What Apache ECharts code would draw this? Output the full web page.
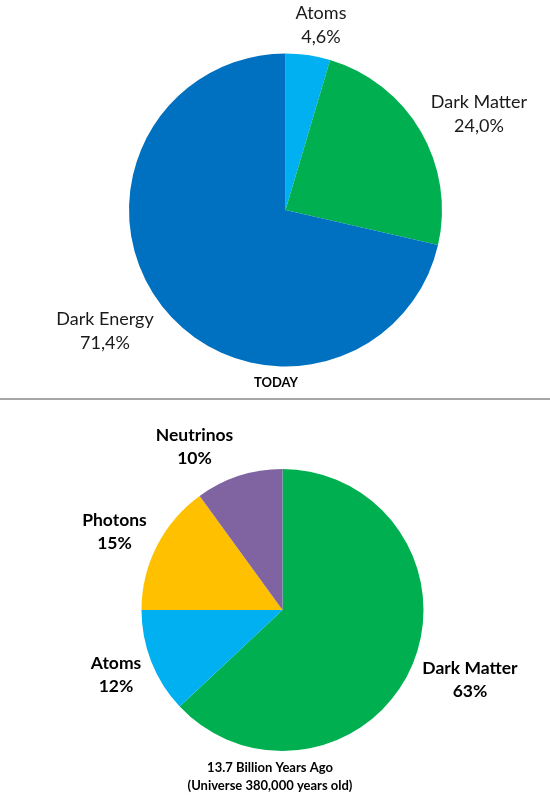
<!DOCTYPE html>
<html>
<head>
<meta charset="utf-8">
<script src="https://cdn.jsdelivr.net/npm/echarts@6/dist/echarts.min.js"></script>
<style>
  html, body { margin: 0; padding: 0; background: #fff; }
  #main { width: 550px; height: 800px; }
</style>
</head>
<body>
<div id="main"></div>
<script>
// ---- Data ----
const todayCategories = ['Atoms', 'Dark Matter', 'Dark Energy'];
const todayValues = [4.6, 24.0, 71.4];

const earlyCategories = ['Dark Matter', 'Atoms', 'Photons', 'Neutrinos'];
const earlyValues = [63, 12, 15, 10];

const todayTitle = 'TODAY';
const earlyTitle = '13.7 Billion Years Ago\n(Universe 380,000 years old)';

// ---- Styles / layout (kept separate from data) ----
const colors = {
  'Atoms': '#00B0F0',
  'Dark Matter': '#00B050',
  'Dark Energy': '#0070C0',
  'Photons': '#FFC000',
  'Neutrinos': '#8064A2'
};
const FONT = 'Lato, "Open Sans", sans-serif';
// label centres (pixels) per series, per data index
const labelPos = [
  [[321, 25], [479, 114.5], [105, 331.5]],
  [[470, 679.5], [116, 675], [114.5, 531.5], [194.5, 446.5]]
];

function pieData(cats, vals) {
  return cats.map((c, i) => ({ name: c, value: vals[i], itemStyle: { color: colors[c] } }));
}

const chart = echarts.init(document.getElementById('main'), null, { renderer: 'canvas' });

function layoutFn(p) {
  const pos = labelPos[p.seriesIndex][p.dataIndex];
  return { x: pos[0], y: pos[1], align: 'center', verticalAlign: 'middle', hideOverlap: false, moveOverlap: false };
}

chart.setOption({
  animation: false,
  backgroundColor: '#ffffff',
  title: [
    {
      text: todayTitle, left: 276, top: 376, textAlign: 'center', padding: 0,
      textStyle: { fontFamily: FONT, fontSize: 13, fontWeight: 'bold', color: '#000', lineHeight: 14 }
    },
    {
      text: earlyTitle, left: 270, top: 759, textAlign: 'center', padding: 0,
      textStyle: { fontFamily: FONT, fontSize: 13, fontWeight: 'bold', color: '#000', lineHeight: 18 }
    }
  ],
  graphic: [
    { type: 'line', shape: { x1: 0, y1: 399, x2: 550, y2: 399 }, style: { stroke: '#A6A6A6', lineWidth: 2 } }
  ],
  series: [
    {
      type: 'pie',
      center: [285.5, 210],
      radius: 156.5,
      startAngle: 90,
      clockwise: true,
      avoidLabelOverlap: false,
      data: pieData(todayCategories, todayValues),
      itemStyle: { borderWidth: 0 },
      label: {
        show: true,
        position: 'outside',
        formatter: p => p.name + '\n' + p.value.toFixed(1).replace('.', ',') + '%',
        fontFamily: FONT, fontSize: 18, color: '#1a1a1a', lineHeight: 24, align: 'center'
      },
      labelLine: { show: false },
      labelLayout: layoutFn,
      emphasis: { disabled: true }
    },
    {
      type: 'pie',
      center: [282.5, 610],
      radius: 141,
      startAngle: 90,
      clockwise: true,
      avoidLabelOverlap: false,
      data: pieData(earlyCategories, earlyValues),
      itemStyle: { borderWidth: 0 },
      label: {
        show: true,
        position: 'outside',
        formatter: p => p.name + '\n' + p.value + '%',
        fontFamily: FONT, fontSize: 17.5, fontWeight: 'bold', color: '#000', lineHeight: 23, align: 'center'
      },
      labelLine: { show: false },
      labelLayout: layoutFn,
      emphasis: { disabled: true }
    }
  ]
});
</script>
</body>
</html>
